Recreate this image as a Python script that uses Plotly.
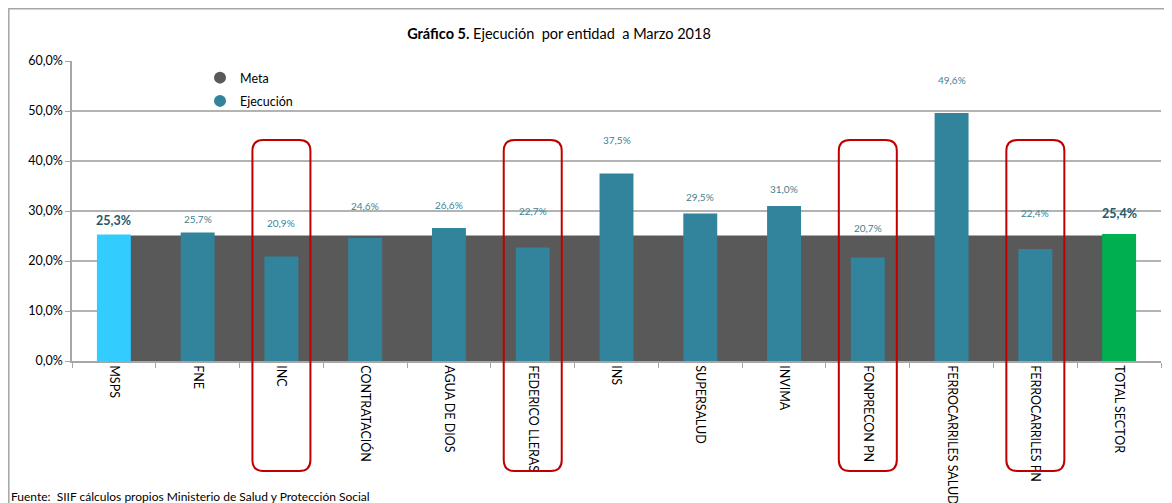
import plotly.graph_objs as go

# data (percent)
entidades = ['MSPS', 'FNE', 'INC', 'CONTRATACIÓN', 'AGUA DE DIOS', 'FEDERICO LLERAS',
             'INS', 'SUPERSALUD', 'INVIMA', 'FONPRECON PN', 'FERROCARRILES SALUD',
             'FERROCARRILES PN', 'TOTAL SECTOR']
ejecucion = [25.3, 25.7, 20.9, 24.6, 26.6, 22.7, 37.5, 29.5, 31.0, 20.7, 49.6, 22.4, 25.4]
meta = [25.0] * len(entidades)
marcadas = ['INC', 'FEDERICO LLERAS', 'FONPRECON PN', 'FERROCARRILES PN']

TEAL = '#31849B'
GREY = '#595959'
bar_colors = ['#33CCFF'] + [TEAL] * (len(entidades) - 2) + ['#00B050']

# label nudges above bar top, in pixels (manual placement as in the original)
label_shift = [14, 14, 34, 32, 23, 37, 34, 17, 17, 30, 33, 36, 21]

FONT = 'Lato'
n = len(entidades)

# the page body adds an 8px margin, so the figure is 8px smaller than the window
PAGE = 8
FIG_W, FIG_H = 1172 - PAGE, 503 - PAGE

fig = go.Figure()

# meta: grey band from the first category centre to the last one, behind the bars
meta_width = [0.5] + [1.0] * (n - 2) + [0.5]
meta_offset = [0.0] + [-0.5] * (n - 1)
fig.add_trace(go.Bar(
    x=entidades, y=[v / 100 for v in meta], width=meta_width, offset=meta_offset,
    marker=dict(color=GREY, line=dict(width=1, color=GREY)),
    showlegend=False, hoverinfo='skip'))

fig.add_trace(go.Bar(
    x=entidades, y=[v / 100 for v in ejecucion],
    marker=dict(color=bar_colors, line=dict(width=0)),
    width=0.405, offset=-0.2025, showlegend=False))

# legend entries
fig.add_trace(go.Scatter(x=[None], y=[None], mode='markers', name='Meta', legendgroup='m',
                         marker=dict(symbol='circle', size=15, color=GREY)))
fig.add_trace(go.Scatter(x=[None], y=[None], mode='markers', name='Ejecución', legendgroup='e',
                         marker=dict(symbol='circle', size=15, color=TEAL)))

# data labels
for i, (name, v) in enumerate(zip(entidades, ejecucion)):
    bold = i in (0, n - 1)
    fig.add_annotation(
        x=name, y=v / 100, yshift=label_shift[i], showarrow=False,
        text=(f'<b>{v:.1f}%</b>' if bold else f'{v:.1f}%').replace('.', ','),
        font=dict(family=FONT, size=12.5 if bold else 10,
                  color='#215968' if bold else '#3F7F8F'),
        yanchor='middle')

# red rounded boxes (paper coords computed from category index)
W, H = 1089.0, 300.0
rx, ry = 11 / W, 11 / H
for name in marcadas:
    i = entidades.index(name)
    cx = (i + 0.5) / n
    x0, x1 = cx - 29 / W, cx + 29 / W
    y0, y1 = (361 - 471) / H, (361 - 140) / H
    path = (f'M {x0 + rx},{y1} L {x1 - rx},{y1} Q {x1},{y1} {x1},{y1 - ry} '
            f'L {x1},{y0 + ry} Q {x1},{y0} {x1 - rx},{y0} '
            f'L {x0 + rx},{y0} Q {x0},{y0} {x0},{y0 + ry} '
            f'L {x0},{y1 - ry} Q {x0},{y1} {x0 + rx},{y1} Z')
    fig.add_shape(type='path', path=path, xref='paper', yref='paper',
                  line=dict(color='#C00000', width=2), layer='above')

# outer frame
fig.add_shape(type='rect', xref='paper', yref='paper',
              x0=(8.8 - 72) / W, x1=(1190 - 72) / W, y0=(361 - 530) / H, y1=(361 - 8.8) / H,
              line=dict(color='#A6A6A6', width=1.5), layer='below')

fig.add_annotation(
    text='Fuente:  SIIF cálculos propios Ministerio de Salud y Protección Social',
    xref='paper', yref='paper', x=(9 - 72) / W, y=(361 - 496) / H,
    xanchor='left', yanchor='middle', showarrow=False,
    font=dict(family=FONT, size=12, color='#000000'))

fig.update_layout(
    title=dict(text='<b>Gráfico 5.</b> Ejecución  por entidad  a Marzo 2018',
               x=(559 - PAGE) / FIG_W, xanchor='center', y=1 - (34 - PAGE) / FIG_H,
               yanchor='middle', font=dict(family=FONT, size=14.5, color='#000000')),
    width=FIG_W, height=FIG_H,
    margin=dict(l=72 - PAGE, r=11, t=61 - PAGE, b=142),
    paper_bgcolor='white', plot_bgcolor='white',
    separators=',.',
    font=dict(family=FONT, color='#000000'),
    barmode='overlay',
    legend=dict(x=(200 - 72) / W, y=(361 - 63) / H, xanchor='left', yanchor='top',
                bgcolor='rgba(0,0,0,0)', font=dict(family=FONT, size=12.5),
                itemsizing='constant', tracegroupgap=4),
    xaxis=dict(type='category', tickangle=90, ticks='outside', tickson='boundaries',
               ticklen=5, tickcolor='#A6A6A6', showline=True, linecolor='#A6A6A6',
               linewidth=1.5, tickfont=dict(family=FONT, size=12.5, color='#000000'),
               range=[-0.5, n - 0.5], automargin=False),
    yaxis=dict(range=[0, 0.6], dtick=0.1, tickformat='.1%', showgrid=True,
               gridcolor='#B3B3B3', gridwidth=1.5, showline=True, linecolor='#A6A6A6',
               linewidth=1.5, ticks='outside', ticklen=5, tickcolor='#A6A6A6',
               tickfont=dict(family=FONT, size=12.5, color='#000000'), zeroline=False,
               automargin=False),
)

fig.write_html('out.html')
